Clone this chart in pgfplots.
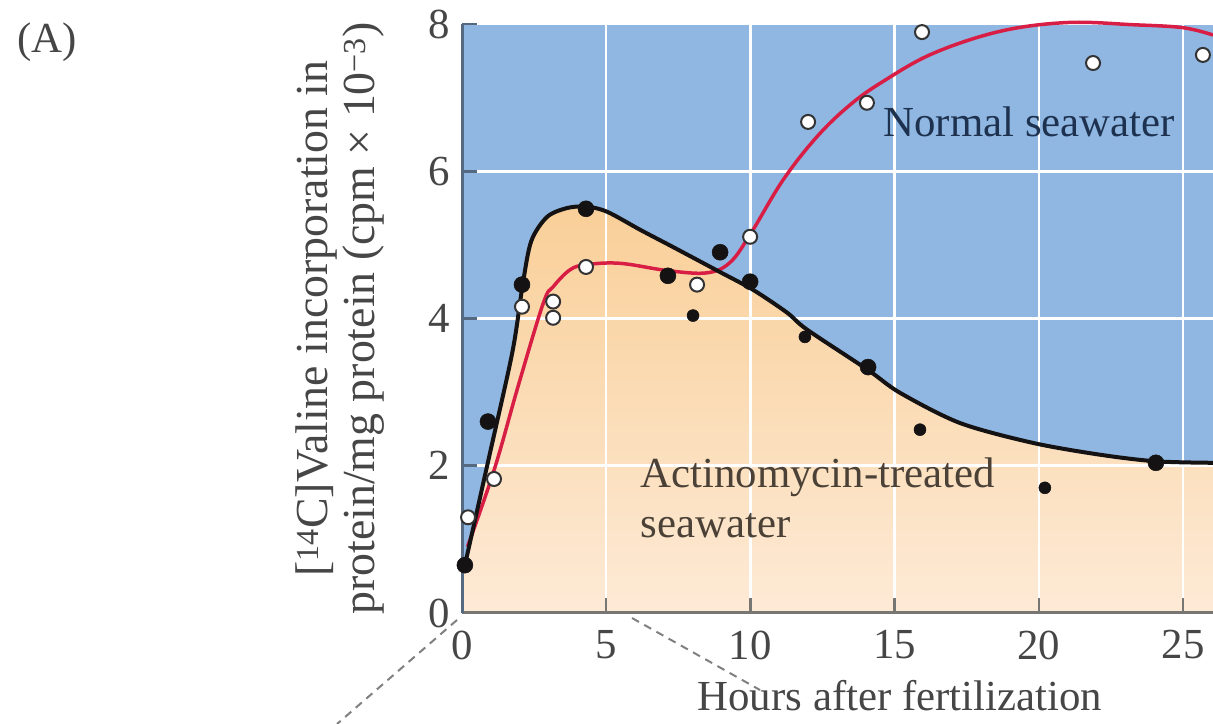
\documentclass[border=0pt]{standalone}
\usepackage{fontspec}
\setmainfont{Liberation Serif}
\usepackage{pgfplots}
\pgfplotsset{compat=1.18}
\definecolor{bgblue}{RGB}{143,183,226}
\definecolor{ortop}{RGB}{249,207,152}
\definecolor{orbot}{RGB}{253,234,214}
\definecolor{redc}{RGB}{216,30,68}
\definecolor{dotblack}{RGB}{20,18,18}
\definecolor{xaxcol}{RGB}{120,118,115}
\definecolor{yaxcol}{RGB}{85,105,130}
\definecolor{tickcol}{RGB}{70,70,70}
\definecolor{navytxt}{RGB}{30,50,80}
\definecolor{browntxt}{RGB}{75,65,55}
\newcommand\bigfont{\fontsize{43}{45}\selectfont}
\newcommand\ylabfont{\fontsize{46}{47}\selectfont}

\pgfplotstableread{
x y
0.00 0.45
0.10 0.65
0.94 2.12
1.75 3.55
2.10 4.45
2.40 5.05
2.95 5.38
3.64 5.50
4.30 5.52
5.03 5.45
6.20 5.20
7.32 4.97
8.95 4.63
10.09 4.39
11.27 4.08
11.96 3.85
14.08 3.30
15.19 2.99
17.27 2.58
19.80 2.31
22.12 2.15
24.06 2.06
26.04 2.04
}\blackfill

\pgfplotstableread{
x y
0.10 0.65
0.94 2.12
1.75 3.55
2.10 4.45
2.40 5.05
2.95 5.38
3.64 5.50
4.30 5.52
5.03 5.45
6.20 5.20
7.32 4.97
8.95 4.63
10.09 4.39
11.27 4.08
11.96 3.85
14.08 3.30
15.19 2.99
17.27 2.58
19.80 2.31
22.12 2.15
24.06 2.06
26.04 2.04
}\blackcurve

\pgfplotstableread{
x y
0.19 0.90
1.12 1.95
1.96 3.10
2.82 4.21
3.16 4.43
3.74 4.66
4.30 4.73
5.47 4.75
7.14 4.65
8.49 4.62
9.29 4.76
9.99 5.14
11.13 5.88
12.31 6.47
13.45 6.90
14.60 7.22
16.33 7.60
18.65 7.90
20.98 8.02
23.27 7.99
25.00 7.95
26.04 7.85
}\redcurve

\pgfplotstableread{
x y
0.10 0.65
0.90 2.60
2.08 4.46
4.30 5.49
7.14 4.58
8.95 4.90
9.99 4.50
14.08 3.34
24.06 2.04
}\blackbig

\pgfplotstableread{
x y
8.01 4.04
11.89 3.75
15.88 2.49
20.21 1.70
}\blacksmall

\pgfplotstableread{
x y
0.21 1.30
1.11 1.82
2.08 4.16
3.16 4.23
3.16 4.01
4.30 4.70
8.15 4.46
9.99 5.11
12.00 6.67
14.04 6.93
15.95 7.89
21.88 7.47
25.69 7.58
}\opendots

\begin{document}
\begin{tikzpicture}
\node[anchor=west, font=\bigfont, text=tickcol] at (14bp,682bp) {(A)};
\draw[gray, line width=2bp, dash pattern=on 8bp off 6bp] (457bp,104bp) -- (337bp,0bp);
\draw[gray, line width=2bp, dash pattern=on 8bp off 6bp] (632bp,106bp) -- (760bp,34bp);
\begin{axis}[
  set layers=standard,
  at={(462bp,111bp)}, anchor=south west,
  scale only axis, width=751bp, height=589bp,
  xmin=0, xmax=26.04, ymin=0, ymax=8,
  clip=false,
  axis lines=left,
  axis line style={-, line width=3bp},
  x axis line style={draw=xaxcol},
  y axis line style={draw=yaxcol},
  xtick={0,5,...,25}, ytick={0,2,...,8},
  tick align=inside, major tick length=15bp,
  xtick style={draw=xaxcol, line width=2.5bp},
  ytick style={draw=yaxcol, line width=2.5bp},
  grid=major, major grid style={draw=white, line width=2.5bp},
  /pgf/number format/assume math mode=true,
  xticklabel style={font=\bigfont, text=tickcol, yshift=-14bp},
  yticklabel style={font=\bigfont, text=tickcol, xshift=-9bp},
  xlabel={Hours after fertilization},
  ylabel={[\textsuperscript{14}C]Valine incorporation in\\protein/mg protein (cpm × 10\textsuperscript{−3})},
  xlabel style={at={(axis description cs:0.583,-0.141)}, anchor=center, font=\bigfont, text=tickcol},
  ylabel style={at={(axis description cs:-0.162,0.5)}, anchor=center, align=center, font=\ylabfont, text=tickcol},
]
\addplot[on layer=axis background, draw=none, fill=bgblue] coordinates {(0,8) (26.04,8)} \closedcycle;
\addplot[on layer=axis background, draw=none, top color=ortop, bottom color=orbot, smooth, tension=0.5] table {\blackfill} \closedcycle;
\addplot[redc, line width=3.5bp, smooth, tension=0.6] table {\redcurve};
\addplot[dotblack, line width=4bp, smooth, tension=0.5] table {\blackcurve};
\addplot[only marks, mark=*, mark size=8bp, mark options={fill=dotblack, draw=dotblack, line width=0.5bp}] table {\blackbig};
\addplot[only marks, mark=*, mark size=6bp, mark options={fill=dotblack, draw=dotblack, line width=0.5bp}] table {\blacksmall};
\addplot[only marks, mark=*, mark size=7bp, mark options={fill=white, draw=black!80, line width=2bp}] table {\opendots};
\node[anchor=base west, font=\bigfont, text=navytxt] at (axis cs:14.49,6.47) {Normal seawater};
\node[anchor=base west, font=\bigfont, text=browntxt] at (axis cs:6.07,1.71) {Actinomycin-treated};
\node[anchor=base west, font=\bigfont, text=browntxt] at (axis cs:6.07,1.03) {seawater};
\end{axis}
\pgfresetboundingbox
\useasboundingbox (0,0) rectangle (1213bp,724bp);
\end{tikzpicture}
\end{document}
